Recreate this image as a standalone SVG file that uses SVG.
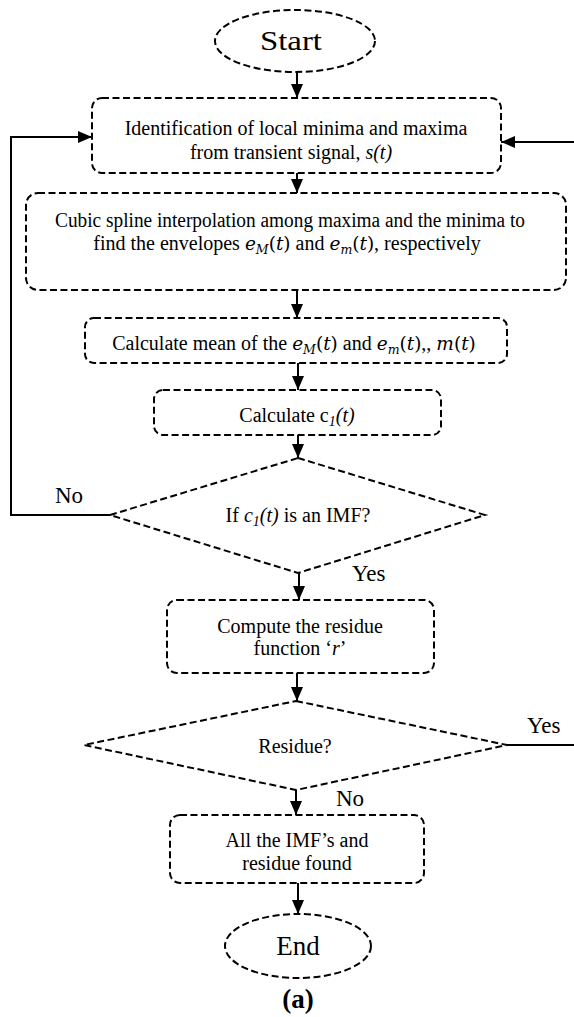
<svg xmlns="http://www.w3.org/2000/svg" width="574" height="1017" viewBox="0 0 574 1017" font-family="'Liberation Serif', 'Times New Roman', serif">
  <style>
    .node { fill: none; stroke: #000; stroke-width: 2; stroke-dasharray: 7 3.5; }
    .conn { fill: none; stroke: #000; stroke-width: 2; }
    text { font-family: "Liberation Serif", "Times New Roman", serif; fill: #000; }
    .t { font-size: 20px; text-anchor: middle; }
    .term { font-size: 27px; text-anchor: middle; }
    .lbl { font-size: 23px; }
    .it { font-style: italic; }
    .sub { font-size: 14px; }
    /* equation pieces set in a wider math-like serif */
    .m { font-family: "DejaVu Serif", serif; font-size: 18.5px; }
    .msub { font-family: "DejaVu Serif", serif; font-size: 12.5px; font-style: italic; }
  </style>
  <defs>
    <marker id="arrow" viewBox="0 0 14 12" refX="14" refY="6" markerWidth="14" markerHeight="12" markerUnits="userSpaceOnUse" orient="auto">
      <path d="M0,0 L14,6 L0,12 Z" fill="#000"/>
    </marker>
  </defs>

  <!-- connectors -->
  <g id="connectors">
    <line class="conn" x1="297" y1="72" x2="297" y2="98" marker-end="url(#arrow)"/>
    <line class="conn" x1="297" y1="173" x2="297" y2="193" marker-end="url(#arrow)"/>
    <line class="conn" x1="297" y1="290" x2="297" y2="318" marker-end="url(#arrow)"/>
    <line class="conn" x1="298" y1="363" x2="298" y2="390" marker-end="url(#arrow)"/>
    <line class="conn" x1="298" y1="435" x2="298" y2="458" marker-end="url(#arrow)"/>
    <line class="conn" x1="299" y1="573" x2="299" y2="600" marker-end="url(#arrow)"/>
    <line class="conn" x1="297" y1="673" x2="297" y2="701" marker-end="url(#arrow)"/>
    <line class="conn" x1="296" y1="790" x2="296" y2="815" marker-end="url(#arrow)"/>
    <line class="conn" x1="298" y1="883" x2="298" y2="914" marker-end="url(#arrow)"/>
    <!-- "No" loop back to the extrema step -->
    <polyline class="conn" points="110,515 11,515 11,137 92,137" marker-end="url(#arrow)"/>
    <!-- "Yes" branch of the residue test, leaving to the right -->
    <line class="conn" x1="507" y1="745" x2="574" y2="745"/>
    <!-- re-entry from the right -->
    <line class="conn" x1="574" y1="142" x2="501" y2="142" marker-end="url(#arrow)"/>
    <text class="lbl" x="55" y="503">No</text>
    <text class="lbl" x="352" y="581">Yes</text>
    <text class="lbl" x="527" y="733">Yes</text>
    <text class="lbl" x="336" y="806">No</text>
  </g>

  <g id="start">
    <ellipse class="node" cx="295" cy="41" rx="80" ry="31"/>
    <text class="term" x="291" y="50" textLength="62" lengthAdjust="spacingAndGlyphs">Start</text>
  </g>

  <g id="extrema">
    <rect class="node" x="92" y="98" width="409" height="75" rx="10"/>
    <text class="t" x="296" y="135">Identification of local minima and maxima</text>
    <text class="t" x="291" y="159">from transient signal, <tspan class="it">s(t)</tspan></text>
  </g>

  <g id="envelopes">
    <rect class="node" x="26" y="193" width="540" height="97" rx="12"/>
    <text class="t" x="290" y="227" textLength="470" lengthAdjust="spacingAndGlyphs">Cubic spline interpolation among maxima and the minima to</text>
    <text class="t" x="287" y="250">find the envelopes <tspan class="m it">e</tspan><tspan class="msub" dy="4">M</tspan><tspan class="m" dy="-4">(</tspan><tspan class="m it">t</tspan><tspan class="m">)</tspan> and <tspan class="m it">e</tspan><tspan class="msub" dy="4">m</tspan><tspan class="m" dy="-4">(</tspan><tspan class="m it">t</tspan><tspan class="m">)</tspan>, respectively</text>
  </g>

  <g id="mean">
    <rect class="node" x="85" y="318" width="422" height="45" rx="9"/>
    <text class="t" x="294" y="350">Calculate mean of the <tspan class="m it">e</tspan><tspan class="msub" dy="4">M</tspan><tspan class="m" dy="-4">(</tspan><tspan class="m it">t</tspan><tspan class="m">)</tspan> and <tspan class="m it">e</tspan><tspan class="msub" dy="4">m</tspan><tspan class="m" dy="-4">(</tspan><tspan class="m it">t</tspan><tspan class="m">)</tspan>,, <tspan class="m it">m</tspan><tspan class="m">(</tspan><tspan class="m it">t</tspan><tspan class="m">)</tspan></text>
  </g>

  <g id="component">
    <rect class="node" x="154" y="390" width="287" height="45" rx="9"/>
    <text class="t" x="297" y="422">Calculate c<tspan class="it sub" dy="4">1</tspan><tspan class="it" dy="-4">(t)</tspan></text>
  </g>

  <g id="imf-test">
    <polygon class="node" points="298,458 485,515 298,573 110,515"/>
    <text class="t" x="298" y="522">If <tspan class="it">c</tspan><tspan class="it sub" dy="4">1</tspan><tspan class="it" dy="-4">(t)</tspan> is an IMF?</text>
  </g>

  <g id="residue-fn">
    <rect class="node" x="167" y="600" width="267" height="73" rx="10"/>
    <text class="t" x="300" y="633">Compute the residue</text>
    <text class="t" x="300" y="655">function ‘<tspan class="it">r</tspan>’</text>
  </g>

  <g id="residue-test">
    <polygon class="node" points="296,701 507,745 296,790 84,745"/>
    <text class="t" x="295" y="753">Residue?</text>
  </g>

  <g id="found">
    <rect class="node" x="170" y="815" width="254" height="68" rx="10"/>
    <text class="t" x="297" y="847">All the IMF’s and</text>
    <text class="t" x="297" y="870">residue found</text>
  </g>

  <g id="end">
    <ellipse class="node" cx="298" cy="946" rx="73" ry="32"/>
    <text class="term" x="298" y="955">End</text>
  </g>

  <text x="298" y="1008" style="font-size:27px;font-weight:bold;text-anchor:middle">(a)</text>
</svg>
